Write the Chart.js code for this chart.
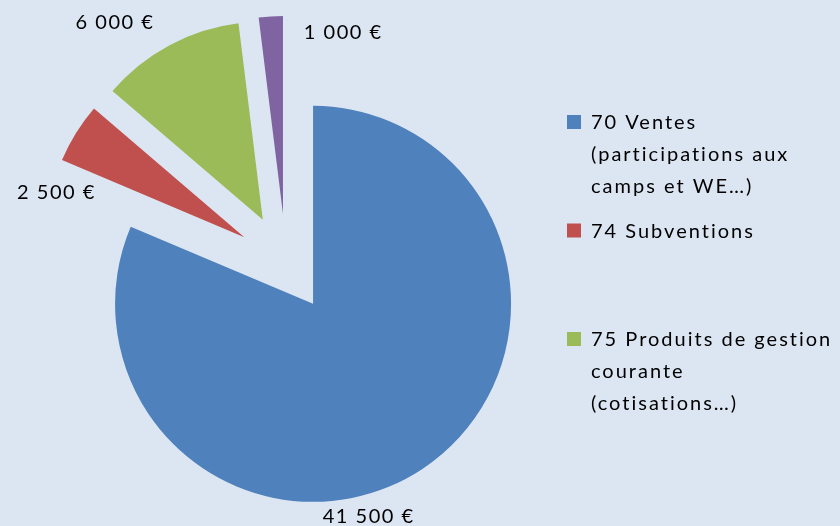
<!DOCTYPE html>
<html>
<head>
<meta charset="utf-8">
<script src="https://cdn.jsdelivr.net/npm/chart.js@4"></script>
<style>
  html, body { margin: 0; padding: 0; background: #dce6f2; }
  #wrap { width: 840px; height: 526px; }
</style>
</head>
<body>
<div id="wrap"><canvas id="pieChart" width="840" height="526"></canvas></div>
<script>
// data
const categories = [
  ["70 Ventes", "(participations aux", "camps et WE…)"],
  ["74 Subventions"],
  ["75 Produits de gestion", "courante", "(cotisations…)"],
  ["76 Produits financiers"]
];
const amounts = [41500, 2500, 6000, 1000];
const valueLabels = ["41 500 €", "2 500 €", "6 000 €", "1 000 €"];

const sliceColors = ["#4f81bd", "#c0504d", "#9bbb59", "#8064a2"];
const fontFamily = "Lato, 'Open Sans', sans-serif";

// every slice is pulled out by the same distance (arc moves offset/4)
const explodePx = 49;
const pieRadius = 198;
// label placement: angle shift from slice middle (deg) and distance from centre
const labelShift = [15.5, -14.8, -7.2, 17.5];
const labelDist = [267, 240, 295, 237];
const legendShown = 3; // the last entry falls out of the legend box

// chart.js grows an offset arc by offset/4 * (1 - sin(circumference)) and
// trims its arc length by that much / PI; undo both so slices stay true
const evenRadiusPlugin = {
  id: "evenRadius",
  beforeDatasetsDraw(chart) {
    chart.getDatasetMeta(0).data.forEach(arc => {
      const circ = arc.circumference;
      const fix = 1 - Math.sin(Math.min(Math.PI, circ));
      const grow = explodePx * fix;
      const mid = (arc.startAngle + arc.endAngle) / 2;
      const widen = grow / (2 * Math.PI * pieRadius);
      arc.outerRadius = pieRadius - grow;
      arc.startAngle = mid - circ / 2 - widen;
      arc.endAngle = mid + circ / 2 + widen;
    });
  }
};

const valueLabelPlugin = {
  id: "valueLabels",
  afterDatasetsDraw(chart) {
    const ctx = chart.ctx;
    const meta = chart.getDatasetMeta(0);
    ctx.save();
    ctx.font = "20px " + fontFamily;
    ctx.letterSpacing = "1.5px";
    ctx.fillStyle = "#000";
    ctx.textAlign = "center";
    ctx.textBaseline = "middle";
    meta.data.forEach((arc, i) => {
      const mid = (arc.startAngle + arc.endAngle) / 2 + labelShift[i] * Math.PI / 180;
      const lx = arc.x + Math.cos(mid) * labelDist[i];
      const ly = arc.y + Math.sin(mid) * labelDist[i];
      ctx.fillText(valueLabels[i], lx, ly);
    });
    ctx.restore();
  }
};

const sideLegendPlugin = {
  id: "sideLegend",
  afterDraw(chart) {
    const ctx = chart.ctx;
    const boxX = 567, textX = 591, firstY = 123, slot = 108.5, lineH = 32;
    ctx.save();
    ctx.font = "20px " + fontFamily;
    ctx.letterSpacing = "2px";
    ctx.textBaseline = "middle";
    ctx.textAlign = "left";
    for (let i = 0; i < legendShown; i++) {
      const y = firstY + i * slot;
      ctx.fillStyle = sliceColors[i];
      ctx.fillRect(boxX, y - 8, 14, 14);
      ctx.fillStyle = "#000";
      categories[i].forEach((line, j) => {
        ctx.fillText(line, textX, y + j * lineH);
      });
    }
    ctx.restore();
  }
};

const pieChart = new Chart(document.getElementById("pieChart"), {
  type: "pie",
  data: {
    labels: categories.map(c => c.join(" ")),
    datasets: [{
      data: amounts,
      backgroundColor: sliceColors,
      borderWidth: 0,
      offset: explodePx * 4
    }]
  },
  options: {
    responsive: false,
    animation: false,
    events: [],
    radius: pieRadius,
    layout: { padding: { left: 0, right: 268, top: 0, bottom: 0 } },
    plugins: {
      legend: { display: false },
      tooltip: { enabled: false }
    }
  },
  plugins: [evenRadiusPlugin, valueLabelPlugin, sideLegendPlugin]
});
</script>
</body>
</html>
